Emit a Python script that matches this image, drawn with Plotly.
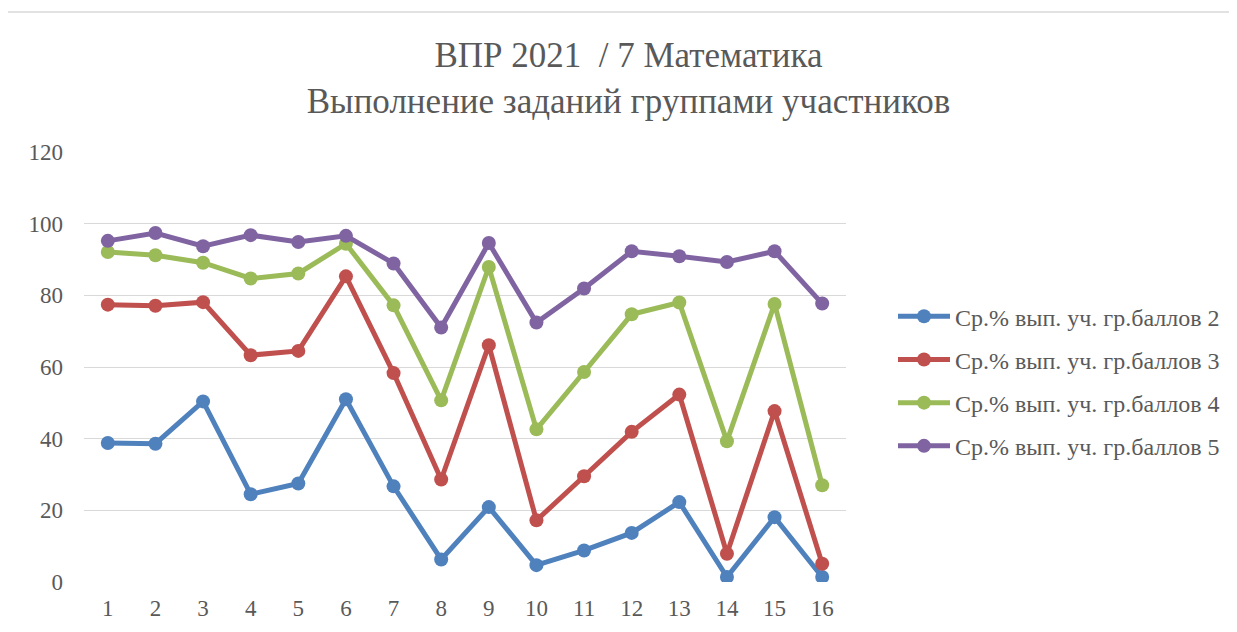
import plotly.graph_objects as go

tasks = list(range(1, 16 + 1))

series_names = [
    "Ср.% вып. уч. гр.баллов 2",
    "Ср.% вып. уч. гр.баллов 3",
    "Ср.% вып. уч. гр.баллов 4",
    "Ср.% вып. уч. гр.баллов 5",
]

grade2 = [38.8, 38.6, 50.4, 24.5, 27.5, 51.0, 26.7, 6.3, 20.9, 4.7, 8.8, 13.7, 22.3, 1.4, 18.1, 1.4]
grade3 = [77.4, 77.1, 78.1, 63.3, 64.5, 85.3, 58.3, 28.6, 66.1, 17.2, 29.5, 41.9, 52.3, 7.9, 47.7, 5.1]
grade4 = [92.1, 91.2, 89.1, 84.7, 86.1, 94.4, 77.2, 50.7, 87.9, 42.6, 58.6, 74.7, 78.0, 39.3, 77.6, 27.0]
grade5 = [95.2, 97.4, 93.7, 96.8, 94.9, 96.6, 88.9, 71.0, 94.6, 72.4, 81.9, 92.3, 90.9, 89.3, 92.3, 77.7]

colors = ["#4F81BD", "#C0504D", "#9BBB59", "#8064A2"]

# the page has an 8px body margin, so the figure is a bit smaller than the window
OFF = 8
W, H = 1237 - OFF, 632 - OFF
L, T = 84 - OFF, 152 - OFF
R = W - (846 - OFF)
B = H - (581.7 - OFF)
plot_w = W - L - R
plot_h = H - T - B


def px_x(p):
    # page pixel -> paper x
    return (p - OFF - L) / plot_w


def px_y(p):
    # page pixel -> paper y
    return (H - B - (p - OFF)) / plot_h


fig = go.Figure()
for i, (name, vals) in enumerate(zip(series_names, [grade2, grade3, grade4, grade5])):
    fig.add_trace(
        go.Scatter(
            x=tasks,
            y=vals,
            mode="lines+markers",
            name=name,
            legendgroup=f"g{i}",
            line=dict(color=colors[i], width=5),
            marker=dict(color=colors[i], size=14),
        )
    )

font_family = "Liberation Serif, Times New Roman, serif"
grey = "#595959"

fig.update_layout(
    width=W,
    height=H,
    margin=dict(l=L, r=R, t=T, b=B),
    paper_bgcolor="white",
    plot_bgcolor="white",
    font=dict(family=font_family, color=grey, size=23),
    title=dict(
        text="ВПР 2021  / 7 Математика<br>Выполнение заданий группами участников",
        x=(628.5 - OFF) / W,
        xanchor="center",
        xref="container",
        y=1 - (67 - OFF) / H,
        yanchor="middle",
        yref="container",
        font=dict(family=font_family, size=35, color=grey),
    ),
    xaxis=dict(
        range=[0.5, 16.5],
        tickmode="array",
        tickvals=tasks,
        ticktext=[str(t) for t in tasks],
        showgrid=False,
        zeroline=False,
        showline=False,
        ticks="",
        ticklabelstandoff=10,
        tickfont=dict(size=23, color=grey),
    ),
    yaxis=dict(
        range=[0, 120],
        dtick=20,
        showgrid=True,
        gridcolor="#D9D9D9",
        gridwidth=1.3,
        zeroline=False,
        showline=False,
        ticks="",
        ticklabelstandoff=20,
        tickfont=dict(size=23, color=grey),
    ),
    legend=dict(
        x=px_x(893),
        xanchor="left",
        y=px_y(381),
        yanchor="middle",
        traceorder="grouped",
        tracegroupgap=9,
        itemwidth=52,
        font=dict(size=24, color=grey),
        bgcolor="rgba(0,0,0,0)",
    ),
    shapes=[
        dict(
            type="rect",
            xref="paper",
            yref="paper",
            x0=px_x(4),
            x1=px_x(1260),
            y0=px_y(660),
            y1=px_y(12),
            line=dict(color="#D9D9D9", width=1.5),
            fillcolor="rgba(0,0,0,0)",
            layer="below",
        )
    ],
)

fig.write_html("out.html")
